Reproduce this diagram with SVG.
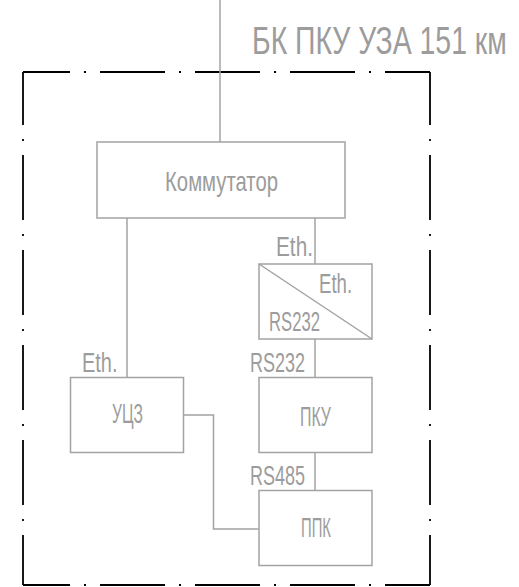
<svg xmlns="http://www.w3.org/2000/svg" width="519" height="587" viewBox="0 0 519 587">
<style>
.box{fill:none;stroke:#a3a3a3;stroke-width:1.5}
.wire{fill:none;stroke:#a3a3a3;stroke-width:1.5}
.frame{fill:none;stroke:#000;stroke-width:1.8;stroke-dasharray:65 14 2 14}
.t{font-family:"Liberation Sans",Arial,sans-serif;font-size:27px;fill:#9c9c9c}
</style>
<rect width="519" height="587" fill="#fff"/>
<g id="frame">
<line class="frame" x1="23" y1="72" x2="430" y2="72" stroke-dashoffset="18"/>
<line class="frame" x1="23" y1="585" x2="430" y2="585" stroke-dashoffset="18"/>
<line class="frame" x1="23" y1="72" x2="23" y2="585" stroke-dashoffset="12"/>
<line class="frame" x1="430" y1="72" x2="430" y2="585" stroke-dashoffset="12"/>
</g>
<text id="title" class="t" transform="translate(252,54) scale(0.73,1)" textLength="349" lengthAdjust="spacingAndGlyphs" style="font-size:38px">БК ПКУ УЗА 151 км</text>
<g id="connectors">
<line class="wire" x1="220" y1="0" x2="220" y2="142"/>
<line class="wire" x1="127" y1="218" x2="127" y2="377.5"/>
<line class="wire" x1="315" y1="218" x2="315" y2="264"/>
<line class="wire" x1="315" y1="339" x2="315" y2="377.5"/>
<line class="wire" x1="315" y1="452.5" x2="315" y2="490.5"/>
<polyline class="wire" points="183.5,415 213.5,415 213.5,529 259,529"/>
<text class="t" transform="translate(276,256) scale(0.77,1)" textLength="48" lengthAdjust="spacingAndGlyphs">Eth.</text>
<text class="t" transform="translate(250,371.5) scale(0.67,1)" textLength="82" lengthAdjust="spacingAndGlyphs">RS232</text>
<text class="t" transform="translate(82,371.5) scale(0.77,1)" textLength="46.1" lengthAdjust="spacingAndGlyphs">Eth.</text>
<text class="t" transform="translate(250,485) scale(0.67,1)" textLength="82" lengthAdjust="spacingAndGlyphs">RS485</text>
</g>
<g id="kommutator">
<rect class="box" x="97" y="142" width="248" height="76"/>
<text class="t" transform="translate(165,191) scale(0.75,1)" textLength="150.7" lengthAdjust="spacingAndGlyphs" style="font-size:27.5px">Коммутатор</text>
</g>
<g id="converter">
<rect class="box" x="259" y="264" width="113" height="75"/>
<line class="wire" x1="259" y1="264" x2="372" y2="339"/>
<text class="t" transform="translate(319,293) scale(0.77,1)" textLength="43" lengthAdjust="spacingAndGlyphs">Eth.</text>
<text class="t" transform="translate(269,331) scale(0.67,1)" textLength="76" lengthAdjust="spacingAndGlyphs">RS232</text>
</g>
<g id="ucz">
<rect class="box" x="70.5" y="377.5" width="113" height="75"/>
<text class="t" transform="translate(112,423) scale(0.58,1)" textLength="53.4" lengthAdjust="spacingAndGlyphs">УЦЗ</text>
</g>
<g id="pku">
<rect class="box" x="259" y="377.5" width="113" height="75"/>
<text class="t" transform="translate(300,425.5) scale(0.58,1)" textLength="53.4" lengthAdjust="spacingAndGlyphs">ПКУ</text>
</g>
<g id="ppk">
<rect class="box" x="259" y="490.5" width="113" height="75"/>
<text class="t" transform="translate(301,537) scale(0.55,1)" textLength="54.5" lengthAdjust="spacingAndGlyphs">ППК</text>
</g>
</svg>
